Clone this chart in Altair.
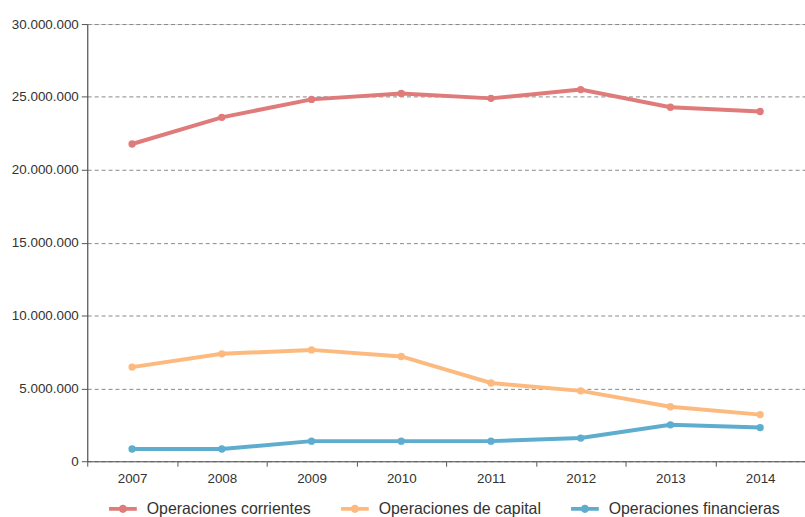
import altair as alt
import pandas as pd

years = ["2007", "2008", "2009", "2010", "2011", "2012", "2013", "2014"]
corrientes = [21770000, 23600000, 24830000, 25240000, 24900000, 25500000, 24290000, 24000000]
capital = [6460000, 7370000, 7640000, 7190000, 5370000, 4830000, 3740000, 3200000]
financieras = [840000, 840000, 1380000, 1380000, 1380000, 1590000, 2500000, 2310000]
series_names = ["Operaciones corrientes", "Operaciones de capital", "Operaciones financieras"]
colors = ["#E07B7B", "#FDBA7E", "#5EADCF"]

rows = []
for name, vals in zip(series_names, [corrientes, capital, financieras]):
    for y, v in zip(years, vals):
        rows.append({"year": y, "value": v, "serie": name})
df = pd.DataFrame(rows)

FONT = "Liberation Sans"

# line segment with a dot in the middle (both drawn clockwise so they union)
symbol_path = ("M-1,-0.13H1V0.13H-1Z "
               "M-0.3,0A0.3,0.3 0 1,1 0.3,0A0.3,0.3 0 1,1 -0.3,0Z")

color_scale = alt.Scale(domain=series_names, range=colors)

color_legend = alt.Color(
    "serie:N",
    scale=color_scale,
    legend=alt.Legend(
        title=None,
        orient="none",
        legendX=22,
        legendY=475,
        direction="horizontal",
        symbolType=symbol_path,
        symbolSize=784,
        symbolStrokeWidth=0,
        labelFont=FONT,
        labelFontSize=16,
        labelColor="#333333",
        labelOffset=10,
        columnPadding=30,
        labelLimit=300,
    ),
)
color_nolegend = alt.Color("serie:N", scale=color_scale, legend=None)

x = alt.X(
    "year:O",
    sort=years,
    scale=alt.Scale(paddingInner=0, paddingOuter=0),
    axis=alt.Axis(
        title=None,
        labelAngle=0,
        labelFont=FONT,
        labelFontSize=13.5,
        labelColor="#333333",
        labelPadding=5,
        tickBand="extent",
        tickColor="#555555",
        tickSize=5,
        domainColor="#555555",
        domainWidth=1.2,
        grid=False,
    ),
)

y = alt.Y(
    "value:Q",
    scale=alt.Scale(domain=[0, 30000000], nice=False),
    axis=alt.Axis(
        title=None,
        values=[0, 5000000, 10000000, 15000000, 20000000, 25000000, 30000000],
        labelExpr="replace(format(datum.value, ','), regexp(',', 'g'), '.')",
        labelFont=FONT,
        labelFontSize=13.5,
        labelColor="#333333",
        labelPadding=3,
        tickColor="#555555",
        tickSize=6,
        domainColor="#555555",
        domainWidth=1.2,
        grid=True,
        gridColor="#888888",
        gridDash=[4, 3],
        gridWidth=1,
    ),
)

base = alt.Chart(df)
lines = base.mark_line(strokeWidth=4).encode(x=x, y=y, color=color_nolegend)
points = base.mark_point(filled=True, size=55, opacity=1).encode(x=x, y=y, color=color_legend)

chart = (
    alt.layer(lines, points)
    .resolve_scale(color="independent")
    .properties(
        width=724,
        height=441,
        autosize=alt.AutoSizeParams(type="none"),
        padding={"left": 88, "top": 22, "right": 0, "bottom": 54},
    )
    .configure_view(stroke=None)
    .configure(font=FONT)
)

chart.save("out.html", embed_options={"renderer": "svg", "actions": False})
